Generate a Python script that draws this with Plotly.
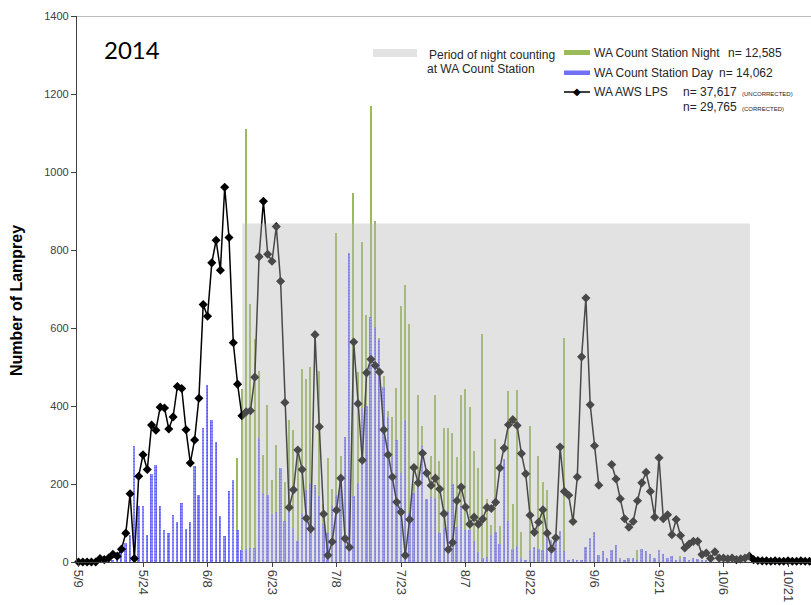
import pandas as pd
import plotly.graph_objects as go

# ---------------- data ----------------
start_date = "2014-05-09"
n_days = 172
dates = pd.date_range(start_date, periods=n_days, freq="D")

# WA AWS LPS (daily counts)
lps = [0, 0, 0, 0, 0, 9, 6, 10, 20, 15,
       33, 74, 175, 9, 220, 275, 237, 351, 338, 397,
       395, 341, 372, 450, 445, 339, 254, 313, 420, 660,
       630, 767, 825, 748, 961, 832, 562, 456, 375, 385,
       388, 474, 783, 925, 789, 771, 860, 720, 409, 140,
       185, 287, 237, 112, 85, 583, 347, 123, 17, 52,
       133, 215, 60, 38, 564, 406, 261, 485, 520, 504,
       487, 339, 275, 218, 154, 128, 17, 109, 242, 203,
       279, 228, 196, 215, 187, 124, 32, 50, 157, 192,
       141, 97, 115, 97, 110, 140, 137, 153, 241, 292,
       352, 365, 350, 278, 226, 120, 76, 102, 134, 74,
       33, 62, 295, 181, 171, 104, 218, 526, 677, 403,
       298, 197, None, None, 250, 213, 162, 111, 89, 104,
       157, 203, 230, 181, 115, 267, 111, 121, 70, 109,
       68, 36, 46, 53, 53, 19, 23, 9, 26, 10,
       10, 8, 10, 6, 8, 10, 15, 6, 4, 3,
       3, 2, 3, 2, 2, 3, 2, 2, 3, 2,
       2, 2]

# WA Count Station Night
night = [None] * 37 + [
    267, 444, 1110, 662, 573, 489, 275, 403, 209, 300,
    241, 204, 365, 339, 292, 495, 470, 500, 0, 489,
    150, 267, 188, 844, 271, 250, 0, 946, 487, 820,
    634, 1170, 875, 574, 476, 386, 371, 446, 657, 711,
    609, 200, 429, 350, 150, 271, 429, 258, 344, 344,
    331, 269, 427, 444, 397, 284, 241, 585, 162, 96,
    315, 93, 100, 438, 149, 442, 76, 0, 350, 30,
    271, 205, 185, 0, 0, 0, 574, 0, 0, 0,
    0, 0, 0, 0, 0, 0, 0, 0, 0, 0,
    0, 0, 0, 32, 0, 0, 0, 0, 0, 0,
    0, 0, 0, 15, 0, 0, 0, 0, 0, 0,
    0, 0, 0, 0, 0] + [None] * 14

# WA Count Station Day
day = [None] * 8 + [
    5, 12, 25, 50, 70, 298, 143, 143, 68, 225,
    248, 143, 83, 74, 121, 103, 151, 85, 102, 245,
    171, 344, 455, 365, 307, 119, 66, 183, 209, 83,
    32, 33, 36, 36, 318, 177, 173, 124, 127, 241,
    104, 138, 87, 55, 126, 185, 203, 198, 168, 98,
    74, 144, 173, 215, 320, 792, 170, 203, 395, 399,
    628, 602, 570, 450, 371, 271, 314, 228, 365, 126,
    177, 200, 297, 162, 166, 164, 74, 87, 130, 201,
    91, 143, 83, 83, 53, 26, 10, 13, 68, 76,
    46, 264, 104, 33, 40, 10, 5, 30, 38, 33,
    32, 66, 57, 70, 79, 27, 3, 8, 6, 3,
    38, 62, 77, 19, 27, 10, 32, 44, 9, 4,
    10, 10, 5, 33, 27, 21, 10, 32, 21, 10,
    15, 6, 8, 12, 5, 10, 8, 5, 3]
day = day + [None] * (n_days - len(day))
night = night + [None] * (n_days - len(night))
night = night[:n_days]

night_period_start = "2014-06-16 02:00"
night_period_end = "2014-10-12 04:00"
night_period_level = 868

n_night = "n= 12,585"
n_day = "n= 14,062"
n_lps_unc = "n= 37,617"
n_lps_cor = "n= 29,765"
year_label = "2014"

tick_start = "2014-05-09"
y_ticks = [0, 200, 400, 600, 800, 1000, 1200, 1400]

# ---------------- layout geometry ----------------
W, H = 811, 605
ML, MR, MT, MB = 77, 0, 16, 43
PW, PH = W - ML - MR, H - MT - MB


def px(x):
    return (x - ML) / PW


def py(y):
    return (H - MB - y) / PH


DAY_MS = 86400000
GREEN = "#9bbb59"
FONT = "Liberation Sans, Arial, sans-serif"
TXT = "#262626"

fig = go.Figure()

fig.add_trace(go.Bar(
    x=dates, y=night, name="WA Count Station Night",
    width=0.36 * DAY_MS, marker=dict(color=GREEN, line=dict(width=0)),
    showlegend=False,
))
fig.add_trace(go.Bar(
    x=dates, y=day, name="WA Count Station Day",
    width=0.46 * DAY_MS,
    marker=dict(color="#a4a4ff", line=dict(width=0),
                pattern=dict(shape=".", fgcolor="#1010f0", size=3, solidity=0.5)),
    showlegend=False,
))
fig.add_trace(go.Scatter(
    x=dates, y=lps, name="WA AWS LPS", mode="lines+markers",
    line=dict(color="black", width=1.5),
    marker=dict(symbol="diamond", size=7, color="black"),
    connectgaps=False, cliponaxis=False, showlegend=False,
))

x_start = pd.Timestamp(start_date) - pd.Timedelta(hours=8.4)
x_end = pd.Timestamp(start_date) + pd.Timedelta(hours=170.35 * 24)

shapes = [
    # night counting period (semi-transparent grey over everything)
    dict(type="rect", xref="x", yref="y", x0=night_period_start, x1=night_period_end,
         y0=0, y1=night_period_level, fillcolor="rgba(182,182,182,0.40)",
         line=dict(width=0), layer="above"),
    # top border line at 1400
    dict(type="line", xref="paper", yref="y", x0=0, x1=1, y0=1400, y1=1400,
         line=dict(color="#a6a6a6", width=1.5), layer="below"),
    # legend swatches
    dict(type="rect", xref="paper", yref="paper", x0=px(373), x1=px(417),
         y0=py(57), y1=py(49), fillcolor="#e3e3e3", line=dict(width=0)),
    dict(type="rect", xref="paper", yref="paper", x0=px(564), x1=px(590),
         y0=py(55), y1=py(50), fillcolor=GREEN, line=dict(width=0)),
    dict(type="rect", xref="paper", yref="paper", x0=px(564), x1=px(590),
         y0=py(75), y1=py(70.5), fillcolor="#7070f2", line=dict(width=0)),
    dict(type="line", xref="paper", yref="paper", x0=px(564), x1=px(590),
         y0=py(92), y1=py(92), line=dict(color="black", width=1.5)),
]

ann = []


def txt(x, y, s, size=12, **kw):
    ann.append(dict(x=px(x), y=py(y), xref="paper", yref="paper", text=s,
                    showarrow=False, xanchor=kw.get("xanchor", "left"),
                    yanchor="middle", font=dict(size=size, color=kw.get("color", TXT),
                                                family=kw.get("family", FONT))))


txt(427, 55, "Period of night counting")
txt(425, 69, "at WA Count Station")
txt(592, 53, "WA Count Station Night")
txt(726, 53, n_night)
txt(592, 73, "WA Count Station Day")
txt(717, 73, n_day)
txt(592, 92, "WA AWS LPS")
txt(681, 92, n_lps_unc)
txt(740, 93.5, "(UNCORRECTED)", size=6)
txt(681, 107.5, n_lps_cor)
txt(740, 109, "(CORRECTED)", size=6)
txt(577, 92, "◆", size=10, xanchor="center", color="black", family="DejaVu Sans")
txt(102, 49, year_label, size=24, color="black", family="Lato, Liberation Sans, sans-serif")

ann.append(dict(x=px(17), y=py(301), xref="paper", yref="paper",
                text="<b>Number of Lamprey</b>", textangle=-90, showarrow=False,
                xanchor="center", yanchor="middle",
                font=dict(size=16, color="black", family=FONT)))

fig.update_layout(
    width=W, height=H,
    margin=dict(l=ML, r=MR, t=MT, b=MB, pad=0),
    paper_bgcolor="white", plot_bgcolor="white",
    barmode="overlay", bargap=0,
    shapes=shapes, annotations=ann,
    showlegend=False,
    font=dict(family=FONT, color="#404040"),
)
fig.update_xaxes(
    type="date", range=[x_start, x_end],
    tick0=tick_start, dtick=15 * DAY_MS, tickformat="%-m/%-d",
    tickangle=90, tickfont=dict(size=13, color="#404040", family=FONT),
    ticks="outside", ticklen=4, tickcolor="#404040",
    showline=True, linecolor="#404040", linewidth=1.2,
    showgrid=False, zeroline=False,
)
fig.update_yaxes(
    range=[0, 1400], tickvals=y_ticks,
    tickfont=dict(size=11, color="#404040", family=FONT),
    ticks="outside", ticklen=5, tickcolor="#404040",
    showline=True, linecolor="#404040", linewidth=1.2,
    showgrid=False, zeroline=False,
)

fig.write_html("out.html")
